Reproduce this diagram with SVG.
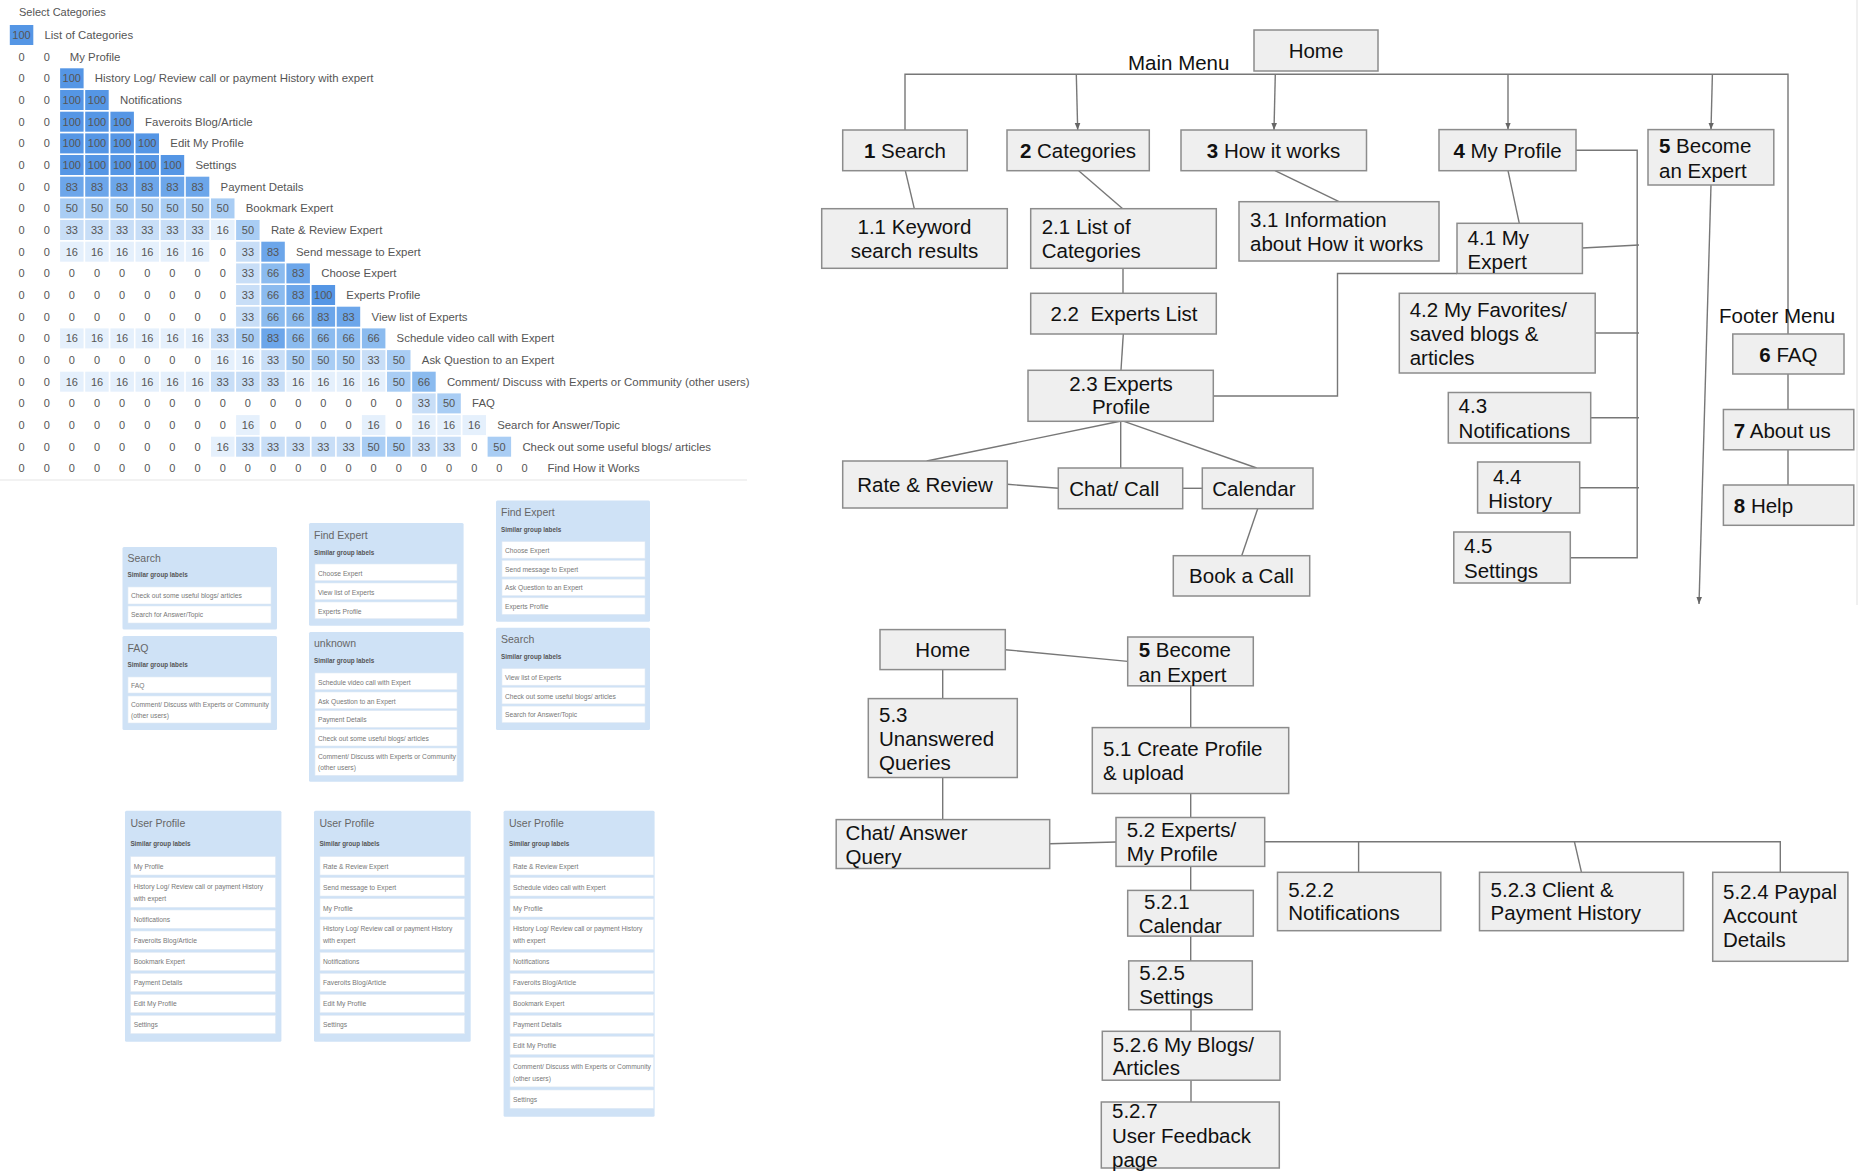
<svg xmlns="http://www.w3.org/2000/svg" width="1860" height="1175" viewBox="0 0 1860 1175">
<style>
text{font-family:"Liberation Sans",Arial,sans-serif}
.m text{font-size:11px;fill:#555;text-anchor:middle}
.m text.l{text-anchor:start;font-size:11.4px}
.m text.h{font-size:11px;text-anchor:start}
.v100{fill:#5596e5}.v83{fill:#6ca6ea}.v66{fill:#8bbbef}.v50{fill:#a9cdf4}.v33{fill:#c8def7}.v16{fill:#e5f0fc}
.card{fill:#cfe2f6}
.it{fill:#fff;stroke:#e2eaf3;stroke-width:0.6}
.ct{font-size:10.5px;fill:#666}
.sg{font-size:6.3px;font-weight:bold;fill:#555}
.tx{font-size:6.7px;fill:#777}
.b{fill:#efefef;stroke:#8c8c8c;stroke-width:1.5}
.t{font-size:20.5px;fill:#111}
.c{text-anchor:middle}
.k{fill:none;stroke:#777;stroke-width:1.4}
.fl{stroke:#e6e6e6;stroke-width:1.2;fill:none}
</style>
<defs>
<marker id="ah" viewBox="0 0 10 10" refX="10" refY="5" markerWidth="7" markerHeight="7" markerUnits="userSpaceOnUse" orient="auto"><path d="M0,1 L10,5 L0,9 z" fill="#666"/></marker>
</defs>
<rect width="1860" height="1175" fill="#fff"/>
<path class="fl" d="M0,480 H747 M1857,0 V605"/>

<!-- Similarity matrix -->
<g id="matrix" class="m">
<text class="h" x="19" y="16">Select Categories</text>
<g transform="translate(0,25)"><rect x="9.8" width="23.5" height="20" class="v100"/><text x="21.5" y="14">100</text><text class="l" x="44.5" y="14">List of Categories</text></g>
<g transform="translate(0,46.7)"><text x="21.5" y="14">0</text><text x="46.7" y="14">0</text><text class="l" x="69.7" y="14">My Profile</text></g>
<g transform="translate(0,68.3)"><text x="21.5" y="14">0</text><text x="46.7" y="14">0</text><rect x="60.1" width="23.5" height="20" class="v100"/><text x="71.8" y="14">100</text><text class="l" x="94.8" y="14">History Log/ Review call or payment History with expert</text></g>
<g transform="translate(0,90)"><text x="21.5" y="14">0</text><text x="46.7" y="14">0</text><rect x="60.1" width="23.5" height="20" class="v100"/><text x="71.8" y="14">100</text><rect x="85.2" width="23.5" height="20" class="v100"/><text x="97" y="14">100</text><text class="l" x="120" y="14">Notifications</text></g>
<g transform="translate(0,111.7)"><text x="21.5" y="14">0</text><text x="46.7" y="14">0</text><rect x="60.1" width="23.5" height="20" class="v100"/><text x="71.8" y="14">100</text><rect x="85.2" width="23.5" height="20" class="v100"/><text x="97" y="14">100</text><rect x="110.4" width="23.5" height="20" class="v100"/><text x="122.1" y="14">100</text><text class="l" x="145.1" y="14">Faveroits Blog/Article</text></g>
<g transform="translate(0,133.4)"><text x="21.5" y="14">0</text><text x="46.7" y="14">0</text><rect x="60.1" width="23.5" height="20" class="v100"/><text x="71.8" y="14">100</text><rect x="85.2" width="23.5" height="20" class="v100"/><text x="97" y="14">100</text><rect x="110.4" width="23.5" height="20" class="v100"/><text x="122.1" y="14">100</text><rect x="135.5" width="23.5" height="20" class="v100"/><text x="147.3" y="14">100</text><text class="l" x="170.3" y="14">Edit My Profile</text></g>
<g transform="translate(0,155)"><text x="21.5" y="14">0</text><text x="46.7" y="14">0</text><rect x="60.1" width="23.5" height="20" class="v100"/><text x="71.8" y="14">100</text><rect x="85.2" width="23.5" height="20" class="v100"/><text x="97" y="14">100</text><rect x="110.4" width="23.5" height="20" class="v100"/><text x="122.1" y="14">100</text><rect x="135.5" width="23.5" height="20" class="v100"/><text x="147.3" y="14">100</text><rect x="160.7" width="23.5" height="20" class="v100"/><text x="172.4" y="14">100</text><text class="l" x="195.4" y="14">Settings</text></g>
<g transform="translate(0,176.7)"><text x="21.5" y="14">0</text><text x="46.7" y="14">0</text><rect x="60.1" width="23.5" height="20" class="v83"/><text x="71.8" y="14">83</text><rect x="85.2" width="23.5" height="20" class="v83"/><text x="97" y="14">83</text><rect x="110.4" width="23.5" height="20" class="v83"/><text x="122.1" y="14">83</text><rect x="135.5" width="23.5" height="20" class="v83"/><text x="147.3" y="14">83</text><rect x="160.7" width="23.5" height="20" class="v83"/><text x="172.4" y="14">83</text><rect x="185.8" width="23.5" height="20" class="v83"/><text x="197.6" y="14">83</text><text class="l" x="220.6" y="14">Payment Details</text></g>
<g transform="translate(0,198.4)"><text x="21.5" y="14">0</text><text x="46.7" y="14">0</text><rect x="60.1" width="23.5" height="20" class="v50"/><text x="71.8" y="14">50</text><rect x="85.2" width="23.5" height="20" class="v50"/><text x="97" y="14">50</text><rect x="110.4" width="23.5" height="20" class="v50"/><text x="122.1" y="14">50</text><rect x="135.5" width="23.5" height="20" class="v50"/><text x="147.3" y="14">50</text><rect x="160.7" width="23.5" height="20" class="v50"/><text x="172.4" y="14">50</text><rect x="185.8" width="23.5" height="20" class="v50"/><text x="197.6" y="14">50</text><rect x="211" width="23.5" height="20" class="v50"/><text x="222.7" y="14">50</text><text class="l" x="245.7" y="14">Bookmark Expert</text></g>
<g transform="translate(0,220)"><text x="21.5" y="14">0</text><text x="46.7" y="14">0</text><rect x="60.1" width="23.5" height="20" class="v33"/><text x="71.8" y="14">33</text><rect x="85.2" width="23.5" height="20" class="v33"/><text x="97" y="14">33</text><rect x="110.4" width="23.5" height="20" class="v33"/><text x="122.1" y="14">33</text><rect x="135.5" width="23.5" height="20" class="v33"/><text x="147.3" y="14">33</text><rect x="160.7" width="23.5" height="20" class="v33"/><text x="172.4" y="14">33</text><rect x="185.8" width="23.5" height="20" class="v33"/><text x="197.6" y="14">33</text><rect x="211" width="23.5" height="20" class="v16"/><text x="222.7" y="14">16</text><rect x="236.1" width="23.5" height="20" class="v50"/><text x="247.9" y="14">50</text><text class="l" x="270.9" y="14">Rate &amp; Review Expert</text></g>
<g transform="translate(0,241.7)"><text x="21.5" y="14">0</text><text x="46.7" y="14">0</text><rect x="60.1" width="23.5" height="20" class="v16"/><text x="71.8" y="14">16</text><rect x="85.2" width="23.5" height="20" class="v16"/><text x="97" y="14">16</text><rect x="110.4" width="23.5" height="20" class="v16"/><text x="122.1" y="14">16</text><rect x="135.5" width="23.5" height="20" class="v16"/><text x="147.3" y="14">16</text><rect x="160.7" width="23.5" height="20" class="v16"/><text x="172.4" y="14">16</text><rect x="185.8" width="23.5" height="20" class="v16"/><text x="197.6" y="14">16</text><text x="222.7" y="14">0</text><rect x="236.1" width="23.5" height="20" class="v33"/><text x="247.9" y="14">33</text><rect x="261.3" width="23.5" height="20" class="v83"/><text x="273" y="14">83</text><text class="l" x="296" y="14">Send message to Expert</text></g>
<g transform="translate(0,263.4)"><text x="21.5" y="14">0</text><text x="46.7" y="14">0</text><text x="71.8" y="14">0</text><text x="97" y="14">0</text><text x="122.1" y="14">0</text><text x="147.3" y="14">0</text><text x="172.4" y="14">0</text><text x="197.6" y="14">0</text><text x="222.7" y="14">0</text><rect x="236.1" width="23.5" height="20" class="v33"/><text x="247.9" y="14">33</text><rect x="261.3" width="23.5" height="20" class="v66"/><text x="273" y="14">66</text><rect x="286.4" width="23.5" height="20" class="v83"/><text x="298.2" y="14">83</text><text class="l" x="321.2" y="14">Choose Expert</text></g>
<g transform="translate(0,285)"><text x="21.5" y="14">0</text><text x="46.7" y="14">0</text><text x="71.8" y="14">0</text><text x="97" y="14">0</text><text x="122.1" y="14">0</text><text x="147.3" y="14">0</text><text x="172.4" y="14">0</text><text x="197.6" y="14">0</text><text x="222.7" y="14">0</text><rect x="236.1" width="23.5" height="20" class="v33"/><text x="247.9" y="14">33</text><rect x="261.3" width="23.5" height="20" class="v66"/><text x="273" y="14">66</text><rect x="286.4" width="23.5" height="20" class="v83"/><text x="298.2" y="14">83</text><rect x="311.6" width="23.5" height="20" class="v100"/><text x="323.3" y="14">100</text><text class="l" x="346.3" y="14">Experts Profile</text></g>
<g transform="translate(0,306.7)"><text x="21.5" y="14">0</text><text x="46.7" y="14">0</text><text x="71.8" y="14">0</text><text x="97" y="14">0</text><text x="122.1" y="14">0</text><text x="147.3" y="14">0</text><text x="172.4" y="14">0</text><text x="197.6" y="14">0</text><text x="222.7" y="14">0</text><rect x="236.1" width="23.5" height="20" class="v33"/><text x="247.9" y="14">33</text><rect x="261.3" width="23.5" height="20" class="v66"/><text x="273" y="14">66</text><rect x="286.4" width="23.5" height="20" class="v66"/><text x="298.2" y="14">66</text><rect x="311.6" width="23.5" height="20" class="v83"/><text x="323.3" y="14">83</text><rect x="336.7" width="23.5" height="20" class="v83"/><text x="348.5" y="14">83</text><text class="l" x="371.5" y="14">View list of Experts</text></g>
<g transform="translate(0,328.4)"><text x="21.5" y="14">0</text><text x="46.7" y="14">0</text><rect x="60.1" width="23.5" height="20" class="v16"/><text x="71.8" y="14">16</text><rect x="85.2" width="23.5" height="20" class="v16"/><text x="97" y="14">16</text><rect x="110.4" width="23.5" height="20" class="v16"/><text x="122.1" y="14">16</text><rect x="135.5" width="23.5" height="20" class="v16"/><text x="147.3" y="14">16</text><rect x="160.7" width="23.5" height="20" class="v16"/><text x="172.4" y="14">16</text><rect x="185.8" width="23.5" height="20" class="v16"/><text x="197.6" y="14">16</text><rect x="211" width="23.5" height="20" class="v33"/><text x="222.7" y="14">33</text><rect x="236.1" width="23.5" height="20" class="v50"/><text x="247.9" y="14">50</text><rect x="261.3" width="23.5" height="20" class="v83"/><text x="273" y="14">83</text><rect x="286.4" width="23.5" height="20" class="v66"/><text x="298.2" y="14">66</text><rect x="311.6" width="23.5" height="20" class="v66"/><text x="323.3" y="14">66</text><rect x="336.7" width="23.5" height="20" class="v66"/><text x="348.5" y="14">66</text><rect x="361.9" width="23.5" height="20" class="v66"/><text x="373.6" y="14">66</text><text class="l" x="396.6" y="14">Schedule video call with Expert</text></g>
<g transform="translate(0,350.1)"><text x="21.5" y="14">0</text><text x="46.7" y="14">0</text><text x="71.8" y="14">0</text><text x="97" y="14">0</text><text x="122.1" y="14">0</text><text x="147.3" y="14">0</text><text x="172.4" y="14">0</text><text x="197.6" y="14">0</text><rect x="211" width="23.5" height="20" class="v16"/><text x="222.7" y="14">16</text><rect x="236.1" width="23.5" height="20" class="v16"/><text x="247.9" y="14">16</text><rect x="261.3" width="23.5" height="20" class="v33"/><text x="273" y="14">33</text><rect x="286.4" width="23.5" height="20" class="v50"/><text x="298.2" y="14">50</text><rect x="311.6" width="23.5" height="20" class="v50"/><text x="323.3" y="14">50</text><rect x="336.7" width="23.5" height="20" class="v50"/><text x="348.5" y="14">50</text><rect x="361.9" width="23.5" height="20" class="v33"/><text x="373.6" y="14">33</text><rect x="387" width="23.5" height="20" class="v50"/><text x="398.8" y="14">50</text><text class="l" x="421.8" y="14">Ask Question to an Expert</text></g>
<g transform="translate(0,371.7)"><text x="21.5" y="14">0</text><text x="46.7" y="14">0</text><rect x="60.1" width="23.5" height="20" class="v16"/><text x="71.8" y="14">16</text><rect x="85.2" width="23.5" height="20" class="v16"/><text x="97" y="14">16</text><rect x="110.4" width="23.5" height="20" class="v16"/><text x="122.1" y="14">16</text><rect x="135.5" width="23.5" height="20" class="v16"/><text x="147.3" y="14">16</text><rect x="160.7" width="23.5" height="20" class="v16"/><text x="172.4" y="14">16</text><rect x="185.8" width="23.5" height="20" class="v16"/><text x="197.6" y="14">16</text><rect x="211" width="23.5" height="20" class="v33"/><text x="222.7" y="14">33</text><rect x="236.1" width="23.5" height="20" class="v33"/><text x="247.9" y="14">33</text><rect x="261.3" width="23.5" height="20" class="v33"/><text x="273" y="14">33</text><rect x="286.4" width="23.5" height="20" class="v16"/><text x="298.2" y="14">16</text><rect x="311.6" width="23.5" height="20" class="v16"/><text x="323.3" y="14">16</text><rect x="336.7" width="23.5" height="20" class="v16"/><text x="348.5" y="14">16</text><rect x="361.9" width="23.5" height="20" class="v16"/><text x="373.6" y="14">16</text><rect x="387" width="23.5" height="20" class="v50"/><text x="398.8" y="14">50</text><rect x="412.2" width="23.5" height="20" class="v66"/><text x="423.9" y="14">66</text><text class="l" x="446.9" y="14">Comment/ Discuss with Experts or Community (other users)</text></g>
<g transform="translate(0,393.4)"><text x="21.5" y="14">0</text><text x="46.7" y="14">0</text><text x="71.8" y="14">0</text><text x="97" y="14">0</text><text x="122.1" y="14">0</text><text x="147.3" y="14">0</text><text x="172.4" y="14">0</text><text x="197.6" y="14">0</text><text x="222.7" y="14">0</text><text x="247.9" y="14">0</text><text x="273" y="14">0</text><text x="298.2" y="14">0</text><text x="323.3" y="14">0</text><text x="348.5" y="14">0</text><text x="373.6" y="14">0</text><text x="398.8" y="14">0</text><rect x="412.2" width="23.5" height="20" class="v33"/><text x="423.9" y="14">33</text><rect x="437.3" width="23.5" height="20" class="v50"/><text x="449.1" y="14">50</text><text class="l" x="472.1" y="14">FAQ</text></g>
<g transform="translate(0,415.1)"><text x="21.5" y="14">0</text><text x="46.7" y="14">0</text><text x="71.8" y="14">0</text><text x="97" y="14">0</text><text x="122.1" y="14">0</text><text x="147.3" y="14">0</text><text x="172.4" y="14">0</text><text x="197.6" y="14">0</text><text x="222.7" y="14">0</text><rect x="236.1" width="23.5" height="20" class="v16"/><text x="247.9" y="14">16</text><text x="273" y="14">0</text><text x="298.2" y="14">0</text><text x="323.3" y="14">0</text><text x="348.5" y="14">0</text><rect x="361.9" width="23.5" height="20" class="v16"/><text x="373.6" y="14">16</text><text x="398.8" y="14">0</text><rect x="412.2" width="23.5" height="20" class="v16"/><text x="423.9" y="14">16</text><rect x="437.3" width="23.5" height="20" class="v16"/><text x="449.1" y="14">16</text><rect x="462.5" width="23.5" height="20" class="v16"/><text x="474.2" y="14">16</text><text class="l" x="497.2" y="14">Search for Answer/Topic</text></g>
<g transform="translate(0,436.7)"><text x="21.5" y="14">0</text><text x="46.7" y="14">0</text><text x="71.8" y="14">0</text><text x="97" y="14">0</text><text x="122.1" y="14">0</text><text x="147.3" y="14">0</text><text x="172.4" y="14">0</text><text x="197.6" y="14">0</text><rect x="211" width="23.5" height="20" class="v16"/><text x="222.7" y="14">16</text><rect x="236.1" width="23.5" height="20" class="v33"/><text x="247.9" y="14">33</text><rect x="261.3" width="23.5" height="20" class="v33"/><text x="273" y="14">33</text><rect x="286.4" width="23.5" height="20" class="v33"/><text x="298.2" y="14">33</text><rect x="311.6" width="23.5" height="20" class="v33"/><text x="323.3" y="14">33</text><rect x="336.7" width="23.5" height="20" class="v33"/><text x="348.5" y="14">33</text><rect x="361.9" width="23.5" height="20" class="v50"/><text x="373.6" y="14">50</text><rect x="387" width="23.5" height="20" class="v50"/><text x="398.8" y="14">50</text><rect x="412.2" width="23.5" height="20" class="v33"/><text x="423.9" y="14">33</text><rect x="437.3" width="23.5" height="20" class="v33"/><text x="449.1" y="14">33</text><text x="474.2" y="14">0</text><rect x="487.6" width="23.5" height="20" class="v50"/><text x="499.4" y="14">50</text><text class="l" x="522.4" y="14">Check out some useful blogs/ articles</text></g>
<g transform="translate(0,458.4)"><text x="21.5" y="14">0</text><text x="46.7" y="14">0</text><text x="71.8" y="14">0</text><text x="97" y="14">0</text><text x="122.1" y="14">0</text><text x="147.3" y="14">0</text><text x="172.4" y="14">0</text><text x="197.6" y="14">0</text><text x="222.7" y="14">0</text><text x="247.9" y="14">0</text><text x="273" y="14">0</text><text x="298.2" y="14">0</text><text x="323.3" y="14">0</text><text x="348.5" y="14">0</text><text x="373.6" y="14">0</text><text x="398.8" y="14">0</text><text x="423.9" y="14">0</text><text x="449.1" y="14">0</text><text x="474.2" y="14">0</text><text x="499.4" y="14">0</text><text x="524.5" y="14">0</text><text class="l" x="547.5" y="14">Find How it Works</text></g>
</g>

<!-- Card sort groups -->
<g id="card-search-a">
<rect class="card" x="122.5" y="547" width="154.5" height="82.5" rx="1.5"/>
<text class="ct" x="127.5" y="562">Search</text>
<text class="sg" x="127.5" y="577">Similar group labels</text>
<rect class="it" x="128" y="587" width="143" height="17"/><text class="tx" x="131" y="598">Check out some useful blogs/ articles</text>
<rect class="it" x="128" y="606" width="143" height="17"/><text class="tx" x="131" y="617">Search for Answer/Topic</text>
</g>
<g id="card-faq">
<rect class="card" x="122.5" y="636" width="154.5" height="94" rx="1.5"/>
<text class="ct" x="127.5" y="651.7">FAQ</text>
<text class="sg" x="127.5" y="667">Similar group labels</text>
<rect class="it" x="128" y="677" width="143" height="16"/><text class="tx" x="131" y="688">FAQ</text>
<rect class="it" x="128" y="696" width="143" height="27"/><text class="tx" x="131" y="706.7">Comment/ Discuss with Experts or Community</text><text class="tx" x="131" y="717.5">(other users)</text>
</g>
<g id="card-find-a">
<rect class="card" x="309" y="523" width="154.6" height="102.7" rx="1.5"/>
<text class="ct" x="314" y="539">Find Expert</text>
<text class="sg" x="314" y="554.7">Similar group labels</text>
<rect class="it" x="315" y="564" width="142" height="16.7"/><text class="tx" x="318" y="575.5">Choose Expert</text>
<rect class="it" x="315" y="583" width="142" height="16.7"/><text class="tx" x="318" y="594.5">View list of Experts</text>
<rect class="it" x="315" y="602" width="142" height="16.7"/><text class="tx" x="318" y="613.5">Experts Profile</text>
</g>
<g id="card-unknown">
<rect class="card" x="309" y="632" width="154.6" height="149.7" rx="1.5"/>
<text class="ct" x="314" y="647">unknown</text>
<text class="sg" x="314" y="663">Similar group labels</text>
<rect class="it" x="315" y="673" width="142" height="16.7"/><text class="tx" x="318" y="684.5">Schedule video call with Expert</text>
<rect class="it" x="315" y="692" width="142" height="16.7"/><text class="tx" x="318" y="703.5">Ask Question to an Expert</text>
<rect class="it" x="315" y="710.7" width="142" height="16.7"/><text class="tx" x="318" y="722.2">Payment Details</text>
<rect class="it" x="315" y="729.3" width="142" height="16.7"/><text class="tx" x="318" y="740.8">Check out some useful blogs/ articles</text>
<rect class="it" x="315" y="748" width="142" height="27.3"/><text class="tx" x="318" y="758.7">Comment/ Discuss with Experts or Community</text><text class="tx" x="318" y="769.5">(other users)</text>
</g>
<g id="card-find-b">
<rect class="card" x="496" y="500.5" width="154" height="121.2" rx="1.5"/>
<text class="ct" x="501" y="516">Find Expert</text>
<text class="sg" x="501" y="531.7">Similar group labels</text>
<rect class="it" x="502" y="541.7" width="143" height="16.5"/><text class="tx" x="505" y="553">Choose Expert</text>
<rect class="it" x="502" y="560.4" width="143" height="16.5"/><text class="tx" x="505" y="571.7">Send message to Expert</text>
<rect class="it" x="502" y="579.1" width="143" height="16.5"/><text class="tx" x="505" y="590.4">Ask Question to an Expert</text>
<rect class="it" x="502" y="597.8" width="143" height="16.5"/><text class="tx" x="505" y="609.1">Experts Profile</text>
</g>
<g id="card-search-b">
<rect class="card" x="496" y="627.7" width="154" height="102.3" rx="1.5"/>
<text class="ct" x="501" y="643.3">Search</text>
<text class="sg" x="501" y="659">Similar group labels</text>
<rect class="it" x="502" y="668.7" width="143" height="16.5"/><text class="tx" x="505" y="680">View list of Experts</text>
<rect class="it" x="502" y="687.4" width="143" height="16.5"/><text class="tx" x="505" y="698.7">Check out some useful blogs/ articles</text>
<rect class="it" x="502" y="706.1" width="143" height="16.5"/><text class="tx" x="505" y="717.4">Search for Answer/Topic</text>
</g>
<g id="card-user-1">
<rect class="card" x="125" y="810.7" width="156.4" height="231" rx="1.5"/>
<text class="ct" x="130.4" y="827.3">User Profile</text>
<text class="sg" x="130.4" y="845.7">Similar group labels</text>
<rect class="it" x="130.7" y="856.7" width="144.7" height="18.3"/><text class="tx" x="133.7" y="868.5">My Profile</text>
<rect class="it" x="130.7" y="877.7" width="144.7" height="29.6"/><text class="tx" x="133.7" y="889.3">History Log/ Review call or payment History</text><text class="tx" x="133.7" y="901">with expert</text>
<rect class="it" x="130.7" y="910" width="144.7" height="18.3"/><text class="tx" x="133.7" y="921.8">Notifications</text>
<rect class="it" x="130.7" y="931" width="144.7" height="18.3"/><text class="tx" x="133.7" y="942.8">Faveroits Blog/Article</text>
<rect class="it" x="130.7" y="952.3" width="144.7" height="18.3"/><text class="tx" x="133.7" y="964.1">Bookmark Expert</text>
<rect class="it" x="130.7" y="973.3" width="144.7" height="18.3"/><text class="tx" x="133.7" y="985.1">Payment Details</text>
<rect class="it" x="130.7" y="994.3" width="144.7" height="18.3"/><text class="tx" x="133.7" y="1006.1">Edit My Profile</text>
<rect class="it" x="130.7" y="1015.3" width="144.7" height="18.3"/><text class="tx" x="133.7" y="1027.1">Settings</text>
</g>
<g id="card-user-2">
<rect class="card" x="314" y="810.7" width="156.7" height="231" rx="1.5"/>
<text class="ct" x="319.4" y="827.3">User Profile</text>
<text class="sg" x="319.4" y="845.7">Similar group labels</text>
<rect class="it" x="320" y="856.7" width="144.6" height="18.3"/><text class="tx" x="323" y="868.5">Rate &amp; Review Expert</text>
<rect class="it" x="320" y="877.7" width="144.6" height="18.3"/><text class="tx" x="323" y="889.5">Send message to Expert</text>
<rect class="it" x="320" y="898.7" width="144.6" height="18.3"/><text class="tx" x="323" y="910.5">My Profile</text>
<rect class="it" x="320" y="919.7" width="144.6" height="29.6"/><text class="tx" x="323" y="931.3">History Log/ Review call or payment History</text><text class="tx" x="323" y="943">with expert</text>
<rect class="it" x="320" y="952.3" width="144.6" height="18.3"/><text class="tx" x="323" y="964.1">Notifications</text>
<rect class="it" x="320" y="973.3" width="144.6" height="18.3"/><text class="tx" x="323" y="985.1">Faveroits Blog/Article</text>
<rect class="it" x="320" y="994.3" width="144.6" height="18.3"/><text class="tx" x="323" y="1006.1">Edit My Profile</text>
<rect class="it" x="320" y="1015.3" width="144.6" height="18.3"/><text class="tx" x="323" y="1027.1">Settings</text>
</g>
<g id="card-user-3">
<rect class="card" x="503.6" y="810.7" width="151" height="306" rx="1.5"/>
<text class="ct" x="509" y="827.3">User Profile</text>
<text class="sg" x="509" y="845.7">Similar group labels</text>
<rect class="it" x="510" y="856.7" width="143.6" height="18.3"/><text class="tx" x="513" y="868.5">Rate &amp; Review Expert</text>
<rect class="it" x="510" y="877.7" width="143.6" height="18.3"/><text class="tx" x="513" y="889.5">Schedule video call with Expert</text>
<rect class="it" x="510" y="898.7" width="143.6" height="18.3"/><text class="tx" x="513" y="910.5">My Profile</text>
<rect class="it" x="510" y="919.7" width="143.6" height="29.6"/><text class="tx" x="513" y="931.3">History Log/ Review call or payment History</text><text class="tx" x="513" y="943">with expert</text>
<rect class="it" x="510" y="952.3" width="143.6" height="18.3"/><text class="tx" x="513" y="964.1">Notifications</text>
<rect class="it" x="510" y="973.3" width="143.6" height="18.3"/><text class="tx" x="513" y="985.1">Faveroits Blog/Article</text>
<rect class="it" x="510" y="994.3" width="143.6" height="18.3"/><text class="tx" x="513" y="1006.1">Bookmark Expert</text>
<rect class="it" x="510" y="1015.3" width="143.6" height="18.3"/><text class="tx" x="513" y="1027.1">Payment Details</text>
<rect class="it" x="510" y="1036.3" width="143.6" height="18.3"/><text class="tx" x="513" y="1048.1">Edit My Profile</text>
<rect class="it" x="510" y="1057.3" width="143.6" height="29.6"/><text class="tx" x="513" y="1068.9">Comment/ Discuss with Experts or Community</text><text class="tx" x="513" y="1080.6">(other users)</text>
<rect class="it" x="510" y="1090" width="143.6" height="18.3"/><text class="tx" x="513" y="1101.8">Settings</text>
</g>

<!-- Connectors -->
<g id="connectors" class="k">
<path d="M905,130 V74.3 H1788 V334"/>
<path d="M1076.3,74.3 L1077.7,130" marker-end="url(#ah)"/>
<path d="M1275.3,74.3 L1274,130" marker-end="url(#ah)"/>
<path d="M1508,74.3 V129.6" marker-end="url(#ah)"/>
<path d="M1712.4,74.3 L1711,129.6" marker-end="url(#ah)"/>
<path d="M905.3,170.7 L914.3,208.7"/>
<path d="M1078.7,170.7 L1122.7,208.7"/>
<path d="M1275,170.7 L1339,201.7"/>
<path d="M1123,268.3 V293.3"/>
<path d="M1123.3,334 L1121,370.3"/>
<path d="M1213.3,396 H1337.5 V273.5 H1457"/>
<path d="M1508,170.7 L1519.3,223.3"/>
<path d="M1576,150.2 H1637.2 V557.7 H1570.3"/>
<path d="M1582.4,248 L1639,245"/>
<path d="M1595.2,333 H1639"/>
<path d="M1590.7,417.8 H1639"/>
<path d="M1579.7,487.7 H1639"/>
<path d="M1120,421.3 L926.7,461"/>
<path d="M1120.7,421.3 V468"/>
<path d="M1124,421.3 L1256.7,468"/>
<path d="M1007.3,484.3 L1058.3,488.3"/>
<path d="M1182.7,488.3 H1202.3"/>
<path d="M1257.7,508.7 L1241.7,555.7"/>
<path d="M1711,185 L1699,604" marker-end="url(#ah)"/>
<path d="M1788,374 V409.5"/>
<path d="M1788,449.8 V485"/>
<path d="M1005.3,649.7 L1127.7,661.4"/>
<path d="M942.7,669.6 V698.6"/>
<path d="M942.7,777.5 V819.6"/>
<path d="M1049.7,843.7 L1116,842"/>
<path d="M1190.7,685.8 V727.6"/>
<path d="M1190.7,793.5 V817.5"/>
<path d="M1264.5,841.7 H1780.3 V872.3"/>
<path d="M1358.6,841.7 V872.3"/>
<path d="M1574.4,841.7 L1581.5,872.3"/>
<path d="M1190.7,866.4 V890.4"/>
<path d="M1190.7,936.1 V960.9"/>
<path d="M1191,1009.7 V1031.3"/>
<path d="M1191,1080.2 V1102"/>
</g>

<!-- Site map nodes -->
<text class="t" x="1128" y="70">Main Menu</text>
<text class="t" x="1719" y="323">Footer Menu</text>
<g id="n-home"><rect class="b" x="1254" y="30" width="124" height="41"/><text class="t c" x="1316" y="58.3">Home</text></g>
<g id="n-search"><rect class="b" x="842.7" y="130" width="124.6" height="40.7"/><text class="t c" x="905" y="157.7"><tspan font-weight="bold">1</tspan> Search</text></g>
<g id="n-categories"><rect class="b" x="1007" y="130" width="142.3" height="40.7"/><text class="t c" x="1078" y="157.7"><tspan font-weight="bold">2</tspan> Categories</text></g>
<g id="n-how"><rect class="b" x="1181" y="130" width="185.5" height="40.7"/><text class="t c" x="1273.5" y="157.7"><tspan font-weight="bold">3</tspan> How it works</text></g>
<g id="n-myprofile"><rect class="b" x="1439" y="129.6" width="137" height="41.1"/><text class="t c" x="1507.5" y="158"><tspan font-weight="bold">4</tspan> My Profile</text></g>
<g id="n-become"><rect class="b" x="1648" y="129.6" width="125.8" height="55.4"/><text class="t" x="1659" y="153.4"><tspan font-weight="bold">5</tspan> Become</text><text class="t" x="1659" y="177.9">an Expert</text></g>
<g id="n-keyword"><rect class="b" x="821.7" y="208.7" width="185.6" height="59.6"/><text class="t c" x="914.5" y="234.3">1.1 Keyword</text><text class="t c" x="914.5" y="257.7">search results</text></g>
<g id="n-listcat"><rect class="b" x="1030.7" y="208.7" width="185.6" height="59.6"/><text class="t" x="1041.7" y="234.3">2.1 List of</text><text class="t" x="1041.7" y="257.7">Categories</text></g>
<g id="n-info"><rect class="b" x="1239" y="201.7" width="200" height="59.3"/><text class="t" x="1250" y="227.3">3.1 Information</text><text class="t" x="1250" y="250.7">about How it works</text></g>
<g id="n-myexpert"><rect class="b" x="1457" y="223.3" width="125.4" height="50.2"/><text class="t" x="1467.6" y="245">4.1 My</text><text class="t" x="1467.6" y="268.8">Expert</text></g>
<g id="n-fav"><rect class="b" x="1399.3" y="293.3" width="195.9" height="79.7"/><text class="t" x="1409.7" y="317">4.2 My Favorites/</text><text class="t" x="1409.7" y="340.7">saved blogs &amp;</text><text class="t" x="1409.7" y="364.8">articles</text></g>
<g id="n-notif"><rect class="b" x="1448.3" y="392.5" width="142.4" height="50.5"/><text class="t" x="1458.6" y="413">4.3</text><text class="t" x="1458.6" y="437.5">Notifications</text></g>
<g id="n-history"><rect class="b" x="1477.6" y="462" width="102.1" height="51"/><text class="t" x="1493" y="483.8">4.4</text><text class="t" x="1488.3" y="508">History</text></g>
<g id="n-settings"><rect class="b" x="1453.8" y="532" width="116.5" height="51"/><text class="t" x="1464" y="553.4">4.5</text><text class="t" x="1464" y="578">Settings</text></g>
<g id="n-expertslist"><rect class="b" x="1030.7" y="293.3" width="185.6" height="40.7"/><text class="t c" x="1124" y="321.3">2.2&#160; Experts List</text></g>
<g id="n-expertsprofile"><rect class="b" x="1028" y="370.3" width="185.3" height="51"/><text class="t c" x="1121" y="390.7">2.3 Experts</text><text class="t c" x="1121" y="414.3">Profile</text></g>
<g id="n-rate"><rect class="b" x="842.7" y="461" width="164.6" height="47"/><text class="t c" x="925" y="491.7">Rate &amp; Review</text></g>
<g id="n-chat"><rect class="b" x="1058.3" y="468" width="124.4" height="40.7"/><text class="t" x="1069.3" y="496">Chat/ Call</text></g>
<g id="n-calendar"><rect class="b" x="1202.3" y="468" width="110.7" height="40.7"/><text class="t" x="1212.3" y="496">Calendar</text></g>
<g id="n-book"><rect class="b" x="1173.3" y="555.7" width="136.4" height="40.3"/><text class="t c" x="1241.5" y="583.3">Book a Call</text></g>
<g id="n-faq"><rect class="b" x="1732.8" y="334" width="111.2" height="40"/><text class="t c" x="1788.4" y="361.7"><tspan font-weight="bold">6</tspan> FAQ</text></g>
<g id="n-about"><rect class="b" x="1723.4" y="409.5" width="130.4" height="40.3"/><text class="t" x="1733.8" y="437.5"><tspan font-weight="bold">7</tspan> About us</text></g>
<g id="n-help"><rect class="b" x="1723.4" y="485" width="130.4" height="40.3"/><text class="t" x="1733.8" y="513"><tspan font-weight="bold">8</tspan> Help</text></g>

<g id="n-home2"><rect class="b" x="880" y="629.6" width="125.3" height="40"/><text class="t c" x="942.7" y="657.2">Home</text></g>
<g id="n-become2"><rect class="b" x="1127.7" y="637" width="125.6" height="48.8"/><text class="t" x="1138.7" y="657.2"><tspan font-weight="bold">5</tspan> Become</text><text class="t" x="1138.7" y="681.6">an Expert</text></g>
<g id="n-unanswered"><rect class="b" x="868.3" y="698.6" width="149" height="78.9"/><text class="t" x="879" y="722">5.3</text><text class="t" x="879" y="745.7">Unanswered</text><text class="t" x="879" y="770">Queries</text></g>
<g id="n-create"><rect class="b" x="1092.3" y="727.6" width="196.4" height="65.9"/><text class="t" x="1103" y="756">5.1 Create Profile</text><text class="t" x="1103" y="780">&amp; upload</text></g>
<g id="n-chatanswer"><rect class="b" x="836.2" y="819.6" width="213.5" height="48.9"/><text class="t" x="845.6" y="839.5">Chat/ Answer</text><text class="t" x="845.6" y="864.2">Query</text></g>
<g id="n-expertsmy"><rect class="b" x="1116" y="817.5" width="148.7" height="48.9"/><text class="t" x="1126.7" y="836.6">5.2 Experts/</text><text class="t" x="1126.7" y="861.4">My Profile</text></g>
<g id="n-521"><rect class="b" x="1127.7" y="890.4" width="125.6" height="45.7"/><text class="t" x="1144" y="908.5">5.2.1</text><text class="t" x="1138.7" y="933">Calendar</text></g>
<g id="n-522"><rect class="b" x="1277.5" y="872.3" width="163.3" height="58.4"/><text class="t" x="1288.2" y="896.7">5.2.2</text><text class="t" x="1288.2" y="920">Notifications</text></g>
<g id="n-523"><rect class="b" x="1479.5" y="872.3" width="204" height="58.4"/><text class="t" x="1490.6" y="896.7">5.2.3 Client &amp;</text><text class="t" x="1490.6" y="920">Payment History</text></g>
<g id="n-524"><rect class="b" x="1712.7" y="872.3" width="135.2" height="89"/><text class="t" x="1723" y="899.3">5.2.4 Paypal</text><text class="t" x="1723" y="922.7">Account</text><text class="t" x="1723" y="946.7">Details</text></g>
<g id="n-525"><rect class="b" x="1128.7" y="960.9" width="123.6" height="48.8"/><text class="t" x="1139.3" y="980.4">5.2.5</text><text class="t" x="1139.3" y="1004.4">Settings</text></g>
<g id="n-526"><rect class="b" x="1102.3" y="1031.3" width="177.7" height="48.9"/><text class="t" x="1112.7" y="1051.9">5.2.6 My Blogs/</text><text class="t" x="1112.7" y="1074.9">Articles</text></g>
<g id="n-527"><rect class="b" x="1101.3" y="1102" width="178" height="66"/><text class="t" x="1112" y="1118.4">5.2.7</text><text class="t" x="1112" y="1142.5">User Feedback</text><text class="t" x="1112" y="1166.9">page</text></g>
</svg>
